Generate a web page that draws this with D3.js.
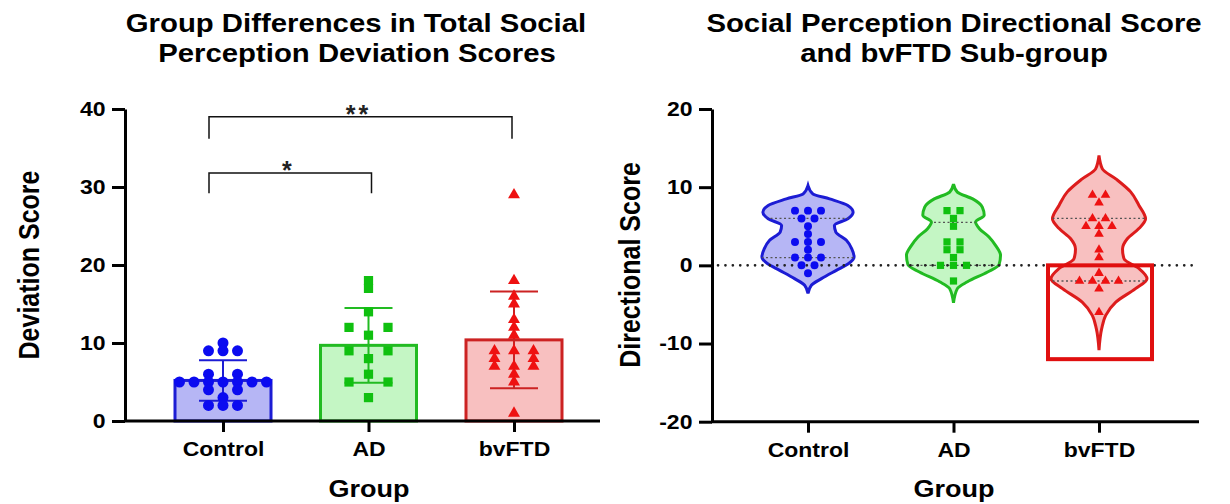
<!DOCTYPE html>
<html>
<head>
<meta charset="utf-8">
<script src="https://cdn.jsdelivr.net/npm/d3@7"></script>
<style>
  body { margin: 0; background: #fff; }
  text { font-family: "Liberation Sans", Arial, sans-serif; font-weight: bold; fill: #000; }
</style>
</head>
<body>
<div class="container"></div>
<script>
// ---- data ----
const groups = ['Control', 'AD', 'bvFTD'];

// left panel: total deviation scores
const devControl = [10, 9, 9, 9, 6, 6, 5, 5, 5, 5, 5, 5, 5, 4, 4, 3, 2, 2, 2];
const devAD = [18, 17, 14, 12, 12, 11, 9, 9, 8, 6, 5, 5, 3];
const devFTD = [29, 18, 16, 15, 13, 12, 11, 9, 9, 9, 8, 8, 7, 7, 7, 6, 5, 1];
const devMean = [5.2, 9.7, 10.4];
const devSD = [2.6, 4.8, 6.2];
const devTicks = [0, 10, 20, 30, 40];

// significance brackets
const sigLabels = ['*', '**'];
const sigFrom = [0, 0];
const sigTo = [1, 2];
const sigTop = [31.8, 39];
const sigFoot = [29.2, 36.2];

// right panel: directional scores
const dirControl = [7, 7, 7, 6, 6, 5, 4, 3, 3, 3, 2, 1, 1, 1, 0, 0, -1];
const dirAD = [7, 7, 6, 5, 3, 3, 2, 2, 1, 0, 0, 0, -2];
const dirFTD = [9, 9, 8, 6, 6, 5, 5, 5, 4, 2, 1, -1, -2, -2, -2, -2, -3, -6];
const dirTicks = [-20, -10, 0, 10, 20];
const subgroupBox = [0, -12];

// violin outlines: [score, relative density]
const violinControl = [[10.2, 0], [9.15, 0.10], [8.5, 0.45], [7.66, 0.83], [6.8, 0.94], [5.96, 0.83],
  [5.1, 0.55], [4.26, 0.58], [3.2, 0.80], [2.13, 0.91], [1.07, 0.96], [0.2, 0.84], [-0.64, 0.59],
  [-1.7, 0.28], [-2.55, 0.07], [-3.6, 0]];
const violinAD = [[10.4, 0], [9.37, 0.08], [8.5, 0.40], [7.46, 0.60], [6.4, 0.64], [5.54, 0.46],
  [4.69, 0.54], [3.63, 0.74], [2.55, 0.875], [1.28, 0.98], [0.09, 0.95], [-0.85, 0.71], [-2.1, 0.29],
  [-2.98, 0.08], [-4.8, 0]];
const violinFTD = [[14.05, 0], [12.35, 0.07], [11.07, 0.35], [9.4, 0.66], [7.7, 0.83], [5.96, 0.97],
  [4.7, 0.83], [3.4, 0.59], [2.1, 0.49], [0.86, 0.52], [-0.4, 0.83], [-1.7, 1.0], [-2.98, 0.76],
  [-4.7, 0.35], [-6.4, 0.14], [-8.1, 0.056], [-10.85, 0]];

// ---- styles ----
const WIDTH = 1230;
const HEIGHT = 504;
const SX = 1.15; // the figure's lettering is a bit wide
const stroke = ['#1c1cd4', '#22bb22', '#dd1c1c'];
const fill = ['#b6b6f5', '#c4f6c4', '#f8c0c0'];
const dot = ['#0b0bf0', '#10c010', '#ee1111'];
const symbols = [d3.symbolCircle, d3.symbolSquare, d3.symbolTriangle];

var svg = d3.select('.container').append('svg')
  .attr('width', WIDTH)
  .attr('height', HEIGHT);

var label = function (x, y, str, size, rotate) {
  return svg.append('text')
    .attr('transform', 'translate(' + x + ',' + y + ')' +
      (rotate ? ' rotate(-90) scale(1,' + SX + ')' : ' scale(' + SX + ',1)'))
    .attr('text-anchor', 'middle')
    .style('font-size', size + 'px')
    .text(str);
};

// spread equal values side by side
var swarm = function (vals, step, skipCenter) {
  var count = d3.rollup(vals, function (v) { return v.length; }, function (d) { return d; });
  var seen = new Map();
  return vals.map(function (v) {
    var n = count.get(v), i = seen.get(v) || 0, off;
    seen.set(v, i + 1);
    if (n % 2 === 1 || !skipCenter) off = (i - (n - 1) / 2) * step;
    else off = (i % 2 === 0 ? -1 : 1) * (Math.floor(i / 2) + 1) * step;
    return { v: v, off: off };
  });
};

var quartile = function (vals, p) {
  var s = vals.slice().sort(d3.ascending);
  var pos = p * (s.length + 1) - 1, lo = Math.floor(pos);
  return s[lo] + (s[Math.min(lo + 1, s.length - 1)] - s[lo]) * (pos - lo);
};

var styleAxis = function (g) {
  g.select('.domain').attr('stroke-width', 3);
  g.selectAll('.tick line').attr('stroke-width', 3);
  g.selectAll('.tick text').style('font-size', '20px').attr('transform', 'scale(' + SX + ',1)');
};
var plain = function (d) { return String(d); };

// ================= left panel =================
var xL = d3.scalePoint().domain(groups).range([223, 514]);
var yL = d3.scaleLinear().domain([0, 40]).range([421, 109]);

var left = svg.append('g');
var devSets = [devControl, devAD, devFTD];
var devSteps = [14.5, 19.5, 19.5];

// bars
left.selectAll('rect.bar').data(groups)
  .enter().append('rect')
  .attr('class', 'bar')
  .attr('x', function (d) { return xL(d) - 48; })
  .attr('width', 96)
  .attr('y', function (d, i) { return yL(devMean[i]); })
  .attr('height', function (d, i) { return yL(0) - yL(devMean[i]); })
  .attr('fill', function (d, i) { return fill[i]; })
  .attr('stroke', function (d, i) { return i === 2 ? '#cc2222' : stroke[i]; })
  .attr('stroke-width', 3);

// error bars
groups.forEach(function (gname, i) {
  var eg = left.append('g').attr('stroke', i === 2 ? '#cc2222' : stroke[i]).attr('stroke-width', 2);
  var cx = xL(gname);
  eg.append('line').attr('x1', cx).attr('x2', cx)
    .attr('y1', yL(devMean[i] + devSD[i])).attr('y2', yL(devMean[i] - devSD[i]));
  [devMean[i] + devSD[i], devMean[i] - devSD[i]].forEach(function (v) {
    eg.append('line').attr('x1', cx - 24).attr('x2', cx + 24).attr('y1', yL(v)).attr('y2', yL(v));
  });
});

// points
var leftSizes = [95, 85, 62];
devSets.forEach(function (vals, i) {
  left.append('g').selectAll('path').data(swarm(vals, devSteps[i], true))
    .enter().append('path')
    .attr('d', d3.symbol().type(symbols[i]).size(leftSizes[i]))
    .attr('transform', function (p) { return 'translate(' + (xL(groups[i]) + p.off) + ',' + yL(p.v) + ')'; })
    .attr('fill', dot[i]);
});

// significance brackets
sigLabels.forEach(function (s, k) {
  var x1 = xL(groups[sigFrom[k]]) - 14, x2 = xL(groups[sigTo[k]]) + (k === 0 ? 3 : -2);
  left.append('path')
    .attr('d', 'M' + x1 + ',' + yL(sigFoot[k]) + 'V' + yL(sigTop[k]) + 'H' + x2 + 'V' + yL(sigFoot[k]))
    .attr('fill', 'none').attr('stroke', '#111').attr('stroke-width', 1.5);
  svg.append('text')
    .attr('x', (x1 + x2) / 2 - 2).attr('y', yL(sigTop[k]) + 6)
    .attr('text-anchor', 'middle')
    .attr('letter-spacing', 3)
    .style('font-size', '25px').style('fill', '#222')
    .text(s);
});

// axes
var axL = svg.append('g').attr('transform', 'translate(125,0)')
  .call(d3.axisLeft(yL).tickValues(devTicks).tickFormat(plain).tickSize(13).tickSizeOuter(0).tickPadding(4));
styleAxis(axL);
svg.append('line').attr('x1', 124).attr('x2', 600).attr('y1', 421).attr('y2', 421)
  .attr('stroke', '#000').attr('stroke-width', 3);
var axLB = svg.append('g').attr('transform', 'translate(0,421)')
  .call(d3.axisBottom(xL).tickSize(11).tickSizeOuter(0).tickPadding(10));
axLB.select('.domain').remove();
styleAxis(axLB);

label(356, 32, 'Group Differences in Total Social', 25.5);
label(357, 62, 'Perception Deviation Scores', 25.5);
label(369, 497, 'Group', 23.5);
label(39, 265, 'Deviation Score', 25, true);

// ================= right panel =================
var xR = d3.scalePoint().domain(groups).range([808, 1099]);
var yR = d3.scaleLinear().domain([-20, 20]).range([421.7, 109]);
var wR = d3.scaleLinear().domain([0, 1]).range([0, 48]);

var right = svg.append('g');
var dirSets = [dirControl, dirAD, dirFTD];
var violins = [violinControl, violinAD, violinFTD];

groups.forEach(function (gname, i) {
  var cx = xR(gname);
  var area = d3.area()
    .y(function (d) { return yR(d[0]); })
    .x0(function (d) { return cx - wR(d[1]); })
    .x1(function (d) { return cx + wR(d[1]); })
    .curve(d3.curveMonotoneY);

  right.append('clipPath').attr('id', 'vclip' + i)
    .append('path').attr('d', area(violins[i]));

  right.append('path')
    .attr('d', area(violins[i]))
    .attr('fill', fill[i])
    .attr('stroke', stroke[i])
    .attr('stroke-width', 3);

  // quartile lines
  right.append('g').attr('clip-path', 'url(#vclip' + i + ')')
    .selectAll('line').data([0.25, 0.75])
    .enter().append('line')
    .attr('x1', cx - 60).attr('x2', cx + 60)
    .attr('y1', function (p) { return yR(quartile(dirSets[i], p)); })
    .attr('y2', function (p) { return yR(quartile(dirSets[i], p)); })
    .attr('stroke', '#555').attr('stroke-width', 1.3).attr('stroke-dasharray', '2,2.5');
});

// zero line
right.append('line')
  .attr('x1', 718).attr('x2', 1192).attr('y1', yR(0)).attr('y2', yR(0))
  .attr('stroke', '#222').attr('stroke-width', 2.6)
  .attr('stroke-linecap', 'round').attr('stroke-dasharray', '0.1,7.3');

// bvFTD sub-group box
right.append('rect')
  .attr('x', xR('bvFTD') - 51).attr('width', 104)
  .attr('y', yR(subgroupBox[0])).attr('height', yR(subgroupBox[1]) - yR(subgroupBox[0]))
  .attr('fill', 'none').attr('stroke', '#e00f0f').attr('stroke-width', 4);

// points
var rightSizes = [50, 52, 40];
dirSets.forEach(function (vals, i) {
  right.append('g').selectAll('path').data(swarm(vals, 13, false))
    .enter().append('path')
    .attr('d', d3.symbol().type(symbols[i]).size(rightSizes[i]))
    .attr('transform', function (p) { return 'translate(' + (xR(groups[i]) + p.off) + ',' + yR(p.v) + ')'; })
    .attr('fill', dot[i]);
});

var axR = svg.append('g').attr('transform', 'translate(712,0)')
  .call(d3.axisLeft(yR).tickValues(dirTicks).tickFormat(plain).tickSize(13).tickSizeOuter(0).tickPadding(4));
styleAxis(axR);
svg.append('line').attr('x1', 711).attr('x2', 1199).attr('y1', yR(-20)).attr('y2', yR(-20))
  .attr('stroke', '#000').attr('stroke-width', 3);
var axRB = svg.append('g').attr('transform', 'translate(0,' + yR(-20) + ')')
  .call(d3.axisBottom(xR).tickSize(11).tickSizeOuter(0).tickPadding(10));
axRB.select('.domain').remove();
styleAxis(axRB);

label(954, 32, 'Social Perception Directional Score', 25.5);
label(954, 62, 'and bvFTD Sub-group', 25.5);
label(954, 497, 'Group', 23.5);
label(640, 265, 'Directional Score', 25, true);
</script>
</body>
</html>
